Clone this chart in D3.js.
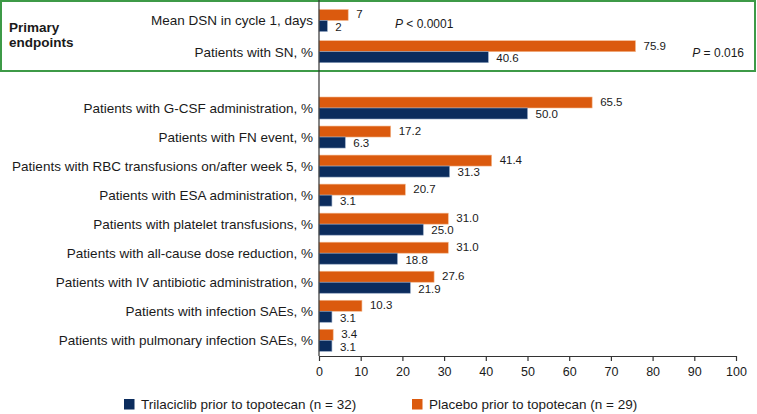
<!DOCTYPE html>
<html>
<head>
<meta charset="utf-8">
<script src="https://cdn.jsdelivr.net/npm/d3@7"></script>
<style>
  html, body { margin: 0; padding: 0; background: #fff; }
  svg { display: block; font-family: "Liberation Sans", Arial, sans-serif; }
</style>
</head>
<body>
<svg id="chart" width="757" height="414"></svg>
<script>
// ---- data ----
const primaryCategories = [
  "Mean DSN in cycle 1, days",
  "Patients with SN, %"
];
const primaryTrilaciclib = [2, 40.6];
const primaryPlacebo = [7, 75.9];
const primaryTrilaciclibLabels = ["2", "40.6"];
const primaryPlaceboLabels = ["7", "75.9"];
const pValues = ["< 0.0001", "= 0.016"];

const categories = [
  "Patients with G-CSF administration, %",
  "Patients with FN event, %",
  "Patients with RBC transfusions on/after week 5, %",
  "Patients with ESA administration, %",
  "Patients with platelet transfusions, %",
  "Patients with all-cause dose reduction, %",
  "Patients with IV antibiotic administration, %",
  "Patients with infection SAEs, %",
  "Patients with pulmonary infection SAEs, %"
];
const trilaciclib = [50.0, 6.3, 31.3, 3.1, 25.0, 18.8, 21.9, 3.1, 3.1];
const placebo = [65.5, 17.2, 41.4, 20.7, 31.0, 31.0, 27.6, 10.3, 3.4];
const xTicks = [0, 10, 20, 30, 40, 50, 60, 70, 80, 90, 100];
const seriesNames = ["Trilaciclib prior to topotecan (n = 32)", "Placebo prior to topotecan (n = 29)"];

// ---- style ----
const navy = "#0b2c5d";
const orange = "#db5a0e";
const green = "#3d9a47";
const textColor = "#1a1a1a";

const svg = d3.select("#chart");

const x = d3.scaleLinear().domain([0, 100]).range([319, 736]);
const yTop = d3.scaleBand().domain(primaryCategories).range([9.5, 62.7]).paddingInner(0.295).paddingOuter(0);
const yBot = d3.scaleBand().domain(categories).range([97, 351.3]).paddingInner(0.2424).paddingOuter(0);

// green box for primary endpoints
svg.append("rect")
  .attr("x", 1).attr("y", 1).attr("width", 754).attr("height", 70)
  .attr("fill", "none").attr("stroke", green).attr("stroke-width", 2);

svg.append("text")
  .attr("x", 9).attr("y", 31.5)
  .attr("font-size", 13.5).attr("font-weight", "bold").attr("fill", textColor)
  .selectAll("tspan").data(["Primary", "endpoints"]).join("tspan")
  .attr("x", 9).attr("dy", (d, i) => i === 0 ? 0 : 15.5).text(d => d);

function drawGroup(cats, tri, pla, triLab, plaLab, y) {
  const g = svg.append("g");
  const bh = y.bandwidth() / 2;
  const rows = cats.map((c, i) => ({ c, t: tri[i], p: pla[i], tl: triLab[i], pl: plaLab[i] }));
  // placebo bars (top)
  g.selectAll(".pb").data(rows).join("rect")
    .attr("x", x(0)).attr("y", d => y(d.c))
    .attr("width", d => x(d.p) - x(0)).attr("height", bh)
    .attr("fill", orange).attr("stroke", "#f3b98f").attr("stroke-width", 0.6);
  // trilaciclib bars (bottom)
  g.selectAll(".tb").data(rows).join("rect")
    .attr("x", x(0)).attr("y", d => y(d.c) + bh)
    .attr("width", d => x(d.t) - x(0)).attr("height", bh)
    .attr("fill", navy).attr("stroke", "#8fa3c0").attr("stroke-width", 0.6);
  // value labels
  g.selectAll(".pl").data(rows).join("text")
    .attr("x", d => x(d.p) + 8).attr("y", d => y(d.c) + bh / 2 - 0.7)
    .attr("dy", "0.36em").attr("font-size", 11.5).attr("fill", textColor)
    .text(d => d.pl);
  g.selectAll(".tl").data(rows).join("text")
    .attr("x", d => x(d.t) + 8).attr("y", d => y(d.c) + bh * 1.5 + 0.7)
    .attr("dy", "0.36em").attr("font-size", 11.5).attr("fill", textColor)
    .text(d => d.tl);
  // category labels
  g.selectAll(".cl").data(rows).join("text")
    .attr("x", 313).attr("y", d => y(d.c) + bh)
    .attr("dy", "0.36em").attr("text-anchor", "end")
    .attr("font-size", 13.5).attr("fill", textColor)
    .text(d => d.c);
}

drawGroup(primaryCategories, primaryTrilaciclib, primaryPlacebo, primaryTrilaciclibLabels, primaryPlaceboLabels, yTop);
drawGroup(categories, trilaciclib, placebo, trilaciclib.map(v => v.toFixed(1)), placebo.map(v => v.toFixed(1)), yBot);

// P values
const pPos = [{ x: 395, anchor: "start", y: yTop(primaryCategories[0]) + yTop.bandwidth() / 2 + 3 },
              { x: 744, anchor: "end", y: yTop(primaryCategories[1]) + yTop.bandwidth() / 2 + 1 }];
pValues.forEach((pv, i) => {
  const t = svg.append("text")
    .attr("x", pPos[i].x).attr("y", pPos[i].y).attr("dy", "0.36em")
    .attr("text-anchor", pPos[i].anchor)
    .attr("font-size", 12).attr("fill", textColor);
  t.append("tspan").attr("font-style", "italic").text("P");
  t.append("tspan").text(" " + pv);
});

// vertical axis line
svg.append("line")
  .attr("x1", x(0)).attr("x2", x(0)).attr("y1", 0).attr("y2", 356)
  .attr("stroke", "#333").attr("stroke-width", 1.2);

// x axis
const xAxis = d3.axisBottom(x).tickValues(xTicks).tickSize(5).tickSizeOuter(0).tickFormat(d3.format("d"));
const ax = svg.append("g").attr("transform", "translate(0,356)").call(xAxis);
ax.select(".domain").attr("stroke", "#333").attr("stroke-width", 1.2);
ax.selectAll(".tick line").attr("stroke", "#333").attr("stroke-width", 1.2);
ax.selectAll(".tick text").attr("font-size", 12.5).attr("fill", textColor)
  .attr("font-family", "Liberation Sans, Arial, sans-serif").attr("dy", "0.95em");

// legend
const legend = svg.append("g");
const legItems = [{ name: seriesNames[0], color: navy, x: 124 }, { name: seriesNames[1], color: orange, x: 412 }];
legItems.forEach(it => {
  legend.append("rect").attr("x", it.x).attr("y", 399).attr("width", 10.5).attr("height", 10.5).attr("fill", it.color);
  legend.append("text").attr("x", it.x + 17).attr("y", 404.5).attr("dy", "0.36em")
    .attr("font-size", 13.5).attr("fill", textColor).text(it.name);
});
</script>
</body>
</html>
